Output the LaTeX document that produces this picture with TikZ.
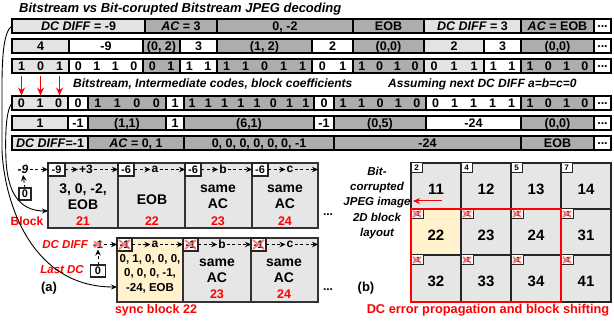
\documentclass[tikz,border=0pt]{standalone}
\usepackage{fontspec}
\setmainfont{Liberation Sans}
\usetikzlibrary{arrows.meta}
\definecolor{lg}{HTML}{E3E3E3}
\definecolor{dg}{HTML}{ADADAD}
\definecolor{bf}{HTML}{E6E6E6}
\definecolor{yl}{HTML}{FFF2CC}
\definecolor{rd}{HTML}{FF0000}
\newcommand\bt[1]{\hfil#1\hfil}
\newcommand\dd{\raisebox{3pt}{...}}
\newcommand\cb[6]{\node[rowcell,fill=#5,minimum width={#3pt-#2pt},anchor=north west] (#1) at (#2,#4) {#6};}
\newcommand\bc[6]{\node[rowcell,fill=#5,minimum width={#3pt-#2pt},anchor=north west] (#1) at (#2,#4) {\hbox to \dimexpr#3pt-#2pt\relax{#6}};}
\newcommand\xover[1]{\draw[xm] ([shift={(2pt,-2pt)}]#1.north west) -- ([shift={(-2pt,2pt)}]#1.south east) ([shift={(-2pt,-2pt)}]#1.north east) -- ([shift={(2pt,2pt)}]#1.south west);}
\begin{document}
\begin{tikzpicture}[x=1pt,y=-1pt,
  rowcell/.style={draw,line width=1.2pt,minimum height=14pt,inner sep=0pt,outer sep=0pt,text height=8.9pt,text depth=0pt,font=\bfseries\fontsize{12.5}{13}\selectfont},
  blk/.style={draw=black!80,line width=1.3pt,fill=bf,inner sep=0pt,outer sep=0pt,anchor=north west,minimum height=65pt},
  tag/.style={draw=black!85,line width=1.1pt,fill=white,inner sep=0pt,outer sep=0pt,anchor=north west,minimum height=13pt,font=\bfseries\fontsize{11}{11}\selectfont},
  btxt/.style={font=\bfseries\fontsize{14}{14}\selectfont,inner sep=0pt},
  stxt/.style={font=\bfseries\fontsize{11.5}{12}\selectfont,inner sep=0pt},
  rnum/.style={font=\bfseries\fontsize{12.5}{12.5}\selectfont,text=rd,inner sep=0pt},
  lbl/.style={font=\bfseries\fontsize{12}{12}\selectfont,inner sep=1pt},
  rlbl/.style={font=\bfseries\itshape\fontsize{11.5}{12}\selectfont,text=rd,inner sep=1pt},
  dar/.style={dash pattern=on 3pt off 2.5pt,line width=0.9pt,-{Stealth[length=6pt,width=5.5pt]}},
  xm/.style={draw=red!65,line width=2pt,opacity=0.75},
  gcell/.style={draw=black!85,line width=1.4pt,fill=bf,minimum width=50pt,minimum height=46pt,inner sep=0pt,outer sep=0pt,anchor=north west},
  gnum/.style={font=\bfseries\fontsize{15}{15}\selectfont,inner sep=0pt},
  gtag/.style={draw=black!85,line width=1pt,fill=white,inner sep=0pt,outer sep=0pt,anchor=north west,minimum width=11pt,minimum height=10pt,font=\bfseries\fontsize{8}{8}\selectfont},
  curv/.style={line width=0.9pt,-{Stealth[length=6pt,width=5pt]}},
  rarr/.style={draw=rd,line width=1.5pt,-{Stealth[length=8pt,width=7pt]}},
]
\useasboundingbox (0,0) rectangle (614,323);

% titles
\node[anchor=west,inner sep=0pt,font=\bfseries\itshape\fontsize{13}{13}\selectfont] (t1) at (19,9) {Bitstream vs Bit-corupted Bitstream JPEG decoding};
\node[anchor=west,inner sep=0pt,font=\bfseries\itshape\fontsize{12}{12}\selectfont] (t2) at (73,84) {Bitstream, Intermediate codes, block coefficients};
\node[anchor=west,inner sep=0pt,font=\bfseries\itshape\fontsize{12}{12}\selectfont] (t3) at (388,84) {Assuming next DC DIFF a=b=c=0};

% row 1
\cb{r1a}{12}{145}{19}{lg}{\textit{DC DIFF} = -9}
\cb{r1b}{145}{217}{19}{dg}{\textit{AC} = 3}
\cb{r1c}{217}{353}{19}{dg}{0, -2}
\cb{r1d}{353}{424}{19}{dg}{EOB}
\cb{r1e}{424}{521}{19}{lg}{\textit{DC DIFF} = 3}
\cb{r1f}{521}{594}{19}{dg}{\textit{AC} = EOB}
\cb{r1g}{594}{611}{19}{white}{\dd}
% row 2
\cb{r2a}{12}{69}{39}{lg}{4}
\cb{r2b}{69}{143}{39}{white}{-9}
\cb{r2c}{143}{180}{39}{dg}{(0, 2)}
\cb{r2d}{180}{217}{39}{white}{3}
\cb{r2e}{217}{312}{39}{dg}{(1, 2)}
\cb{r2f}{312}{353}{39}{white}{2}
\cb{r2g}{353}{424}{39}{dg}{(0,0)}
\cb{r2h}{424}{484}{39}{lg}{2}
\cb{r2i}{484}{521}{39}{white}{3}
\cb{r2j}{521}{594}{39}{dg}{(0,0)}
\cb{r2k}{594}{611}{39}{white}{\dd}
% row 3
\bc{r3a}{12}{69}{59}{lg}{\bt1\bt0\bt1}
\bc{r3b}{69}{143}{59}{white}{\bt0\bt1\bt1\bt0}
\bc{r3c}{143}{180}{59}{dg}{\bt0\bt1}
\bc{r3d}{180}{217}{59}{white}{\bt1\bt1}
\bc{r3e}{217}{312}{59}{dg}{\bt1\bt1\bt0\bt1\bt1}
\bc{r3f}{312}{353}{59}{white}{\bt0\bt1}
\bc{r3g}{353}{424}{59}{dg}{\bt1\bt0\bt1\bt0}
\bc{r3h}{424}{484}{59}{lg}{\bt0\bt1\bt1}
\bc{r3i}{484}{521}{59}{white}{\bt1\bt1}
\bc{r3j}{521}{594}{59}{dg}{\bt1\bt0\bt1\bt0}
\cb{r3k}{594}{611}{59}{white}{\dd}
% row 4
\bc{r4a}{12}{68}{96}{lg}{\bt0\bt1\bt0}
\bc{r4b}{68}{88}{96}{white}{\bt0}
\bc{r4c}{88}{166}{96}{dg}{\bt1\bt1\bt0\bt0}
\bc{r4d}{166}{184}{96}{white}{\bt1}
\bc{r4e}{184}{314}{96}{dg}{\bt1\bt1\bt1\bt1\bt1\bt0\bt1\bt1}
\bc{r4f}{314}{334}{96}{white}{\bt0}
\bc{r4g}{334}{426}{96}{dg}{\bt1\bt1\bt0\bt1\bt0}
\bc{r4h}{426}{521}{96}{white}{\bt0\bt1\bt1\bt1\bt1}
\bc{r4i}{521}{594}{96}{dg}{\bt1\bt0\bt1\bt0}
\cb{r4j}{594}{611}{96}{white}{\dd}
% row 5
\cb{r5a}{12}{68}{116}{lg}{1}
\cb{r5b}{68}{88}{116}{white}{-1}
\cb{r5c}{88}{166}{116}{dg}{(1,1)}
\cb{r5d}{166}{184}{116}{white}{1}
\cb{r5e}{184}{314}{116}{dg}{(6,1)}
\cb{r5f}{314}{334}{116}{white}{-1}
\cb{r5g}{334}{426}{116}{dg}{(0,5)}
\cb{r5h}{426}{521}{116}{white}{-24}
\cb{r5i}{521}{594}{116}{dg}{(0,0)}
\cb{r5j}{594}{611}{116}{white}{\dd}
% row 6
\cb{r6a}{12}{88}{136}{lg}{\textit{DC DIFF}=-1}
\cb{r6b}{88}{184}{136}{dg}{\textit{AC} = 0, 1}
\cb{r6c}{184}{334}{136}{dg}{0, 0, 0, 0, 0, 0, -1}
\cb{r6d}{334}{521}{136}{dg}{-24}
\cb{r6e}{521}{594}{136}{dg}{EOB}
\cb{r6f}{594}{611}{136}{white}{\dd}

% red arrows
\coordinate (ra1) at (21.5,76); \coordinate (rb1) at (21.5,95.5);
\coordinate (ra2) at (40.5,76); \coordinate (rb2) at (40.5,95.5);
\coordinate (ra3) at (59.5,76); \coordinate (rb3) at (59.5,95.5);
\draw[rarr] (ra1) -- (rb1);
\draw[rarr] (ra2) -- (rb2);
\draw[rarr] (ra3) -- (rb3);

% upper blocks (a)
\node[blk,minimum width=70pt] (u21) at (48,163) {};
\node[blk,minimum width=67pt] (u22) at (118,163) {};
\node[blk,minimum width=67pt] (u23) at (185,163) {};
\node[blk,minimum width=66pt] (u24) at (252,163) {};
\node[tag,minimum width=17pt] (tu21) at (48,163) {-9};
\node[tag,minimum width=16pt] (tu22) at (118,163) {-6};
\node[tag,minimum width=16pt] (tu23) at (185,163) {-6};
\node[tag,minimum width=16pt] (tu24) at (252,163) {-6};
\node[btxt] (u21a) at (83,190) {3, 0, -2,};
\node[btxt] (u21b) at (83,205) {EOB};
\node[rnum] (u21n) at (83,221) {21};
\node[btxt] (u22a) at (152,200) {EOB};
\node[rnum] (u22n) at (152,221) {22};
\node[btxt] (u23a) at (218,189) {same};
\node[btxt] (u23b) at (218,204) {AC};
\node[rnum] (u23n) at (218,221) {23};
\node[btxt] (u24a) at (285,189) {same};
\node[btxt] (u24b) at (285,204) {AC};
\node[rnum] (u24n) at (285,221) {24};
\node[lbl] (up3) at (86,169.5) {+3};
\node[lbl] (ua) at (155,169.5) {a};
\node[lbl] (ub) at (223,169.5) {b};
\node[lbl] (uc) at (290,169.5) {c};
\coordinate (uend) at (318,169.5);
\draw[dar] (tu21.east) -- (tu21.east -| up3.west);
\draw[dar] (up3.east) -- (up3.east -| tu22.west);
\draw[dar] (tu22.east) -- (tu22.east -| ua.west);
\draw[dar] (ua.east) -- (ua.east -| tu23.west);
\draw[dar] (tu23.east) -- (tu23.east -| ub.west);
\draw[dar] (ub.east) -- (ub.east -| tu24.west);
\draw[dar] (tu24.east) -- (tu24.east -| uc.west);
\draw[dar] (uc.east) -- (uend);
\node[lbl,font=\bfseries\itshape\fontsize{12}{12}\selectfont] (m9) at (23,169.5) {-9};
\draw[dar] (m9.east) -- (tu21.west);
\node[tag,anchor=center,minimum width=12pt,minimum height=12pt] (z0) at (25,194) {0};
\draw[dar] (z0.north) -- (m9.south);
\node[font=\bfseries\fontsize{12}{12}\selectfont,text=rd,inner sep=0pt] (blk) at (27,221) {Block};
\node[lbl] (udots) at (328,215) {...};

% lower blocks (a)
\node[blk,fill=yl,minimum width=66pt,minimum height=64pt] (s22) at (117,238) {};
\node[blk,minimum width=68pt,minimum height=64pt] (l23) at (183,238) {};
\node[blk,minimum width=67pt,minimum height=64pt] (l24) at (251,238) {};
\node[tag,minimum width=15pt] (ts22) at (117,238) {-1};
\node[tag,minimum width=15pt] (tl23) at (183,238) {-1};
\node[tag,minimum width=15pt] (tl24) at (251,238) {-1};
\xover{ts22}\xover{tl23}\xover{tl24}
\node[stxt] (s22a) at (150,259) {0, 1, 0, 0, 0,};
\node[stxt] (s22b) at (150,273.5) {0, 0, 0, -1,};
\node[stxt] (s22c) at (150,288) {-24, EOB};
\node[btxt] (l23a) at (217,263) {same};
\node[btxt] (l23b) at (217,278) {AC};
\node[rnum] (l23n) at (217,294) {23};
\node[btxt] (l24a) at (284,263) {same};
\node[btxt] (l24b) at (284,278) {AC};
\node[rnum] (l24n) at (284,294) {24};
\node[lbl] (la) at (155,244.5) {a};
\node[lbl] (lb) at (222,244.5) {b};
\node[lbl] (lc) at (290,244.5) {c};
\coordinate (lend) at (318,244.5);
\draw[dar] (ts22.east) -- (ts22.east -| la.west);
\draw[dar] (la.east) -- (la.east -| tl23.west);
\draw[dar] (tl23.east) -- (tl23.east -| lb.west);
\draw[dar] (lb.east) -- (lb.east -| tl24.west);
\draw[dar] (tl24.east) -- (tl24.east -| lc.west);
\draw[dar] (lc.east) -- (lend);
\node[rlbl,anchor=east] (dcd) at (89,245) {DC DIFF};
\node[font=\bfseries\fontsize{11}{11}\selectfont,inner sep=1pt] (dcm) at (98,244.5) {-1};
\xover{dcm}
\draw[dar] (dcm.east) -- (ts22.west);
\node[rlbl,anchor=east] (ldc) at (85,270) {Last DC};
\node[tag,anchor=center,minimum width=15pt,minimum height=12pt] (lz) at (98,271) {0};
\draw[dar] (lz.north) -- (dcm.south);
\node[font=\bfseries\fontsize{13}{13}\selectfont,inner sep=0pt] (pa) at (49,288) {(a)};
\node[font=\bfseries\fontsize{12.5}{12.5}\selectfont,text=rd,inner sep=0pt] (sb) at (156,310) {sync block 22};
\node[lbl] (ldots) at (328,290) {...};

% curves
\draw[curv] (r1a.west) .. controls (4,31) and (2,55) .. (2,85) -- (2,150) .. controls (4,200) and (30,287) .. ([yshift=-17pt]s22.west);
\draw[curv] (r4a.west) .. controls (6,110) and (5,135) .. (6,160) .. controls (8,200) and (25,211) .. ([yshift=-15.5pt]u21.west);

% grid (b)
\node[gcell] (g11) at (411,163) {};
\node[gcell] (g12) at (461,163) {};
\node[gcell] (g13) at (511,163) {};
\node[gcell] (g14) at (561,163) {};
\node[gcell,fill=yl] (g22) at (411,209) {};
\node[gcell] (g23) at (461,209) {};
\node[gcell] (g24) at (511,209) {};
\node[gcell] (g31) at (561,209) {};
\node[gcell,minimum height=47pt] (g32) at (411,255) {};
\node[gcell,minimum height=47pt] (g33) at (461,255) {};
\node[gcell,minimum height=47pt] (g34) at (511,255) {};
\node[gcell,minimum height=47pt] (g41) at (561,255) {};
\foreach \c/\v in {g11/11,g12/12,g13/13,g14/14,g22/22,g23/23,g24/24,g31/31,g32/32,g33/33,g34/34,g41/41}{
  \node[gnum] (n\c) at ([yshift=-3pt]\c.center) {\v};
}
\node[gtag] (k11) at (411,163) {2};
\node[gtag] (k12) at (461,163) {4};
\node[gtag] (k13) at (511,163) {5};
\node[gtag] (k14) at (561,163) {7};
\foreach \c in {g22,g23,g24,g31,g32,g33,g34,g41}{
  \node[gtag,minimum width=12pt,font=\bfseries\fontsize{7.5}{7.5}\selectfont] (k\c) at (\c.north west) {-1};
  \xover{k\c}
}
\draw[draw=rd,line width=1.8pt] (g22.north west) rectangle (g34.south east);
\coordinate (rs) at (442,201);
\coordinate (re) at (413,201);
\draw[rarr,line width=1pt,-{Stealth[length=7pt,width=6pt]}] (rs) -- (re);
\node[align=center,font=\bfseries\itshape\fontsize{11.5}{15.3}\selectfont,inner sep=0pt] (lay) at (377,203) {Bit-\\corrupted\\JPEG image\\2D block\\layout};
\node[font=\bfseries\fontsize{13}{13}\selectfont,inner sep=0pt] (pb) at (366,288) {(b)};
\node[font=\bfseries\fontsize{12.8}{12.8}\selectfont,text=rd,inner sep=0pt] (cap) at (488,310) {DC error propagation and block shifting};
\end{tikzpicture}
\end{document}
